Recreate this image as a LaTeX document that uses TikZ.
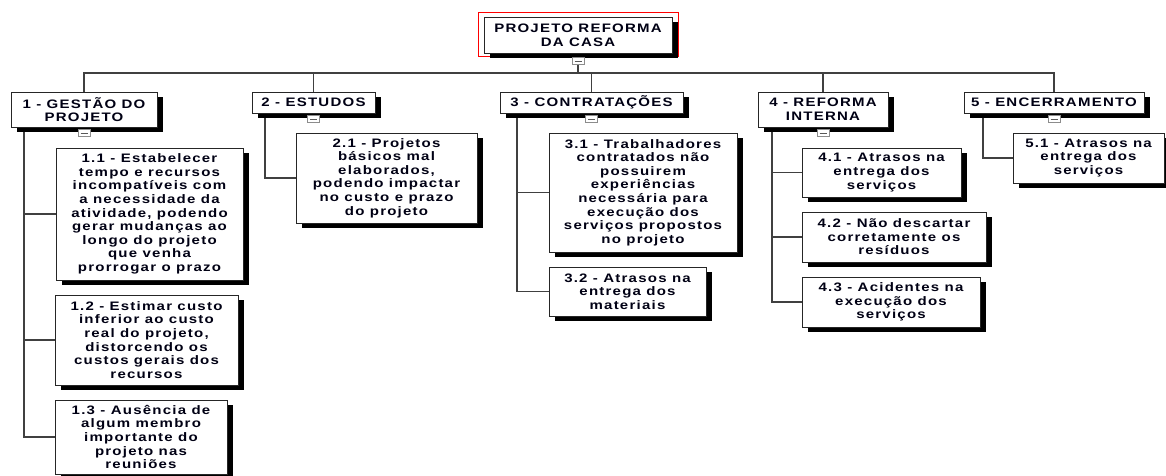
\documentclass[tikz,border=0pt]{standalone}
\usepackage{fontspec}
\setmainfont{Liberation Sans}[FakeStretch=1.22, LetterSpace=10]
\usetikzlibrary{shadows}
\newcommand\wbsfont{\bfseries\fontsize{12.3}{13.6}\selectfont}
\begin{document}
\begin{tikzpicture}[x=1pt,y=-1pt,
  wbs/.style={draw=black!85, line width=0.9pt, fill=white, inner sep=0pt,
    align=center, font=\wbsfont, text=black!92!blue,
    drop shadow={shadow xshift=6pt, shadow yshift=-5pt, opacity=1, fill=black}},
  link/.style={draw=black!75, line width=1.2pt},
  fold/.style={draw=black!45, fill=white, line width=0.8pt, minimum width=12pt,
    minimum height=7pt, inner sep=0pt,
    path picture={\draw[black!65, line width=0.8pt]
      ([xshift=2.5pt]path picture bounding box.west) --
      ([xshift=-2.5pt]path picture bounding box.east);}}
]
\clip (0,0) rectangle (1166,476);
\fill[white] (0,0) rectangle (1166,476);

% connector anchor points
\coordinate (bus) at (578,73);
\coordinate (t1) at (24,127);
\coordinate (t2) at (265,113);
\coordinate (t3) at (517,113);
\coordinate (t4) at (772,127);
\coordinate (t5) at (983,113);

% level 1 boxes (placed first so their tops can be linked to the bus)
\node[wbs, minimum width=146, minimum height=35] (b1) at (84,109.5) {1 - GESTÃO DO\\PROJETO};
\node[wbs, minimum width=123, minimum height=21] (b2) at (313.5,102.5) {2 - ESTUDOS};
\node[wbs, minimum width=183, minimum height=21] (b3) at (591.5,102.5) {3 - CONTRATAÇÕES};
\node[wbs, minimum width=130, minimum height=35] (b4) at (823,109.5) {4 - REFORMA\\INTERNA};
\node[wbs, minimum width=180, minimum height=21] (b5) at (1054,102.5) {5 - ENCERRAMENTO};

\draw[link] (b1.north) |- (bus);
\draw[link] (b2.north) |- (bus);
\draw[link] (b3.north) |- (bus);
\draw[link] (b4.north) |- (bus);
\draw[link] (b5.north) |- (bus);

% work packages
\node[wbs, minimum width=187, minimum height=132] (b11) at (149.5,214)
  {1.1 - Estabelecer\\tempo e recursos\\incompatíveis com\\a necessidade da\\atividade, podendo\\gerar mudanças ao\\longo do projeto\\que venha\\prorrogar o prazo};
\node[wbs, minimum width=183, minimum height=90] (b12) at (146.5,340)
  {1.2 - Estimar custo\\inferior ao custo\\real do projeto,\\distorcendo os\\custos gerais dos\\recursos};
\node[wbs, minimum width=172, minimum height=74] (b13) at (141,437)
  {1.3 - Ausência de\\algum membro\\importante do\\projeto nas\\reuniões};
\node[wbs, minimum width=181, minimum height=90] (b21) at (386.5,178)
  {2.1 - Projetos\\básicos mal\\elaborados,\\podendo impactar\\no custo e prazo\\do projeto};
\node[wbs, minimum width=188, minimum height=119] (b31) at (643,192.5)
  {3.1 - Trabalhadores\\contratados não\\possuirem\\experiências\\necessária para\\execução dos\\serviços propostos\\no projeto};
\node[wbs, minimum width=157, minimum height=49] (b32) at (627.5,291.5)
  {3.2 - Atrasos na\\entrega dos\\materiais};
\node[wbs, minimum width=159, minimum height=49] (b41) at (881.5,172.5)
  {4.1 - Atrasos na\\entrega dos\\serviços};
\node[wbs, minimum width=184, minimum height=50] (b42) at (894,237)
  {4.2 - Não descartar\\corretamente os\\resíduos};
\node[wbs, minimum width=178, minimum height=50] (b43) at (891,302)
  {4.3 - Acidentes na\\execução dos\\serviços};
\node[wbs, minimum width=151, minimum height=50] (b51) at (1088.5,158)
  {5.1 - Atrasos na\\entrega dos\\serviços};

% branches from each parent to its work packages
\draw[link] (t1) |- (b11.west);
\draw[link] (t1) |- (b12.west);
\draw[link] (t1) |- (b13.west);
\draw[link] (t2) |- (b21.west);
\draw[link] (t3) |- (b31.west);
\draw[link] (t3) |- (b32.west);
\draw[link] (t4) |- (b41.west);
\draw[link] (t4) |- (b42.west);
\draw[link] (t4) |- (b43.west);
\draw[link] (t5) |- (b51.west);

% level 1 boxes again, over the starts of the branches
\node[wbs, minimum width=146, minimum height=35] at (84,109.5) {1 - GESTÃO DO\\PROJETO};
\node[wbs, minimum width=123, minimum height=21] at (313.5,102.5) {2 - ESTUDOS};
\node[wbs, minimum width=183, minimum height=21] at (591.5,102.5) {3 - CONTRATAÇÕES};
\node[wbs, minimum width=130, minimum height=35] at (823,109.5) {4 - REFORMA\\INTERNA};
\node[wbs, minimum width=180, minimum height=21] at (1054,102.5) {5 - ENCERRAMENTO};

% root with its highlight frame
\node[draw=red, line width=1pt, minimum width=200, minimum height=44] (frame) at (578,35) {};
\node[wbs, minimum width=188, minimum height=36] (root) at (578,35) {PROJETO REFORMA\\DA CASA};
\node[fold, anchor=north] (f0) at (frame.south) {};
\draw[link] (f0.south) -- (bus);

% collapse markers
\node[fold, anchor=north] (f1) at ([yshift=-2pt]b1.south) {};
\node[fold, anchor=north] (f2) at ([yshift=-2pt]b2.south) {};
\node[fold, anchor=north] (f3) at ([yshift=-2pt]b3.south) {};
\node[fold, anchor=north] (f4) at ([yshift=-2pt]b4.south) {};
\node[fold, anchor=north] (f5) at ([yshift=-2pt]b5.south) {};
\end{tikzpicture}
\end{document}
